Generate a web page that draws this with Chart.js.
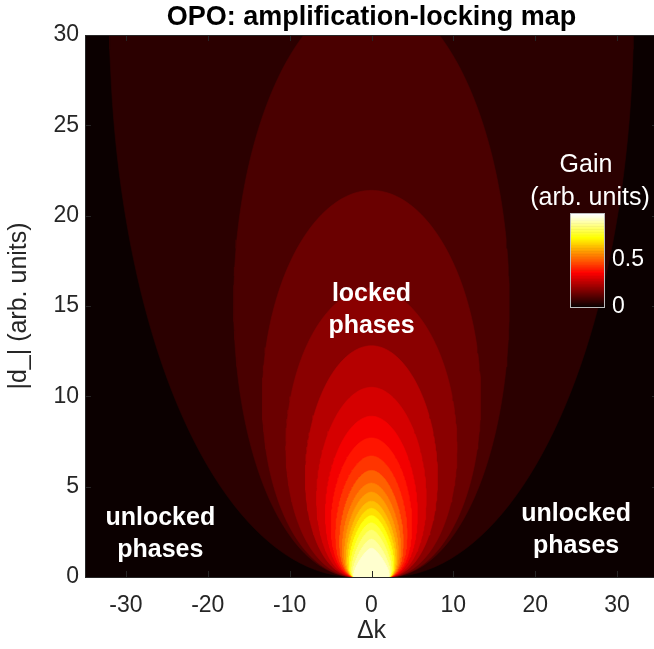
<!DOCTYPE html>
<html>
<head>
<meta charset="utf-8">
<script src="https://cdn.jsdelivr.net/npm/chart.js@4.4.0/dist/chart.umd.min.js"></script>
<style>
  html, body { margin: 0; padding: 0; background: #fff; overflow: hidden; }
  #wrap { width: 654px; height: 649px; overflow: hidden; }
</style>
</head>
<body>
<div id="wrap"><canvas id="graph-canvas" width="660" height="649"></canvas></div>
<script>
// gain value of each filled-contour level (arb. units)
const gainLevels = [0.05, 0.10, 0.15, 0.20, 0.25, 0.30, 0.35, 0.40, 0.45, 0.50,
                    0.55, 0.60, 0.65, 0.70, 0.75, 0.80, 0.85, 0.90, 0.95]
// |d_| where each level crosses dk = 0
const apexHeights = [64.5, 32.3, 21.4, 16.0, 12.8, 10.5, 8.9, 7.7, 6.7, 5.9,
                     5.2, 4.7, 4.2, 3.8, 3.4, 3.0, 2.6, 2.1, 1.6]
// widest half extent in dk of each level (without the foot)
const halfWidths = [31, 15.8, 12.3, 9.4, 7.0, 5.6, 4.5, 3.8, 3.2, 2.7,
                    2.35, 2.05, 1.8, 1.6, 1.4, 1.2, 1.0, 0.8, 0.6]
// half width in dk where all levels meet the dk axis
const footHalfWidth = 2
const gainMax = 1

const xTicks = [-30, -20, -10, 0, 10, 20, 30]
const yTicks = [0, 5, 10, 15, 20, 25, 30]
const colorbarTicks = [0, 0.5]

const annotations = [
    { lines: ['locked', 'phases'], x: 0, y: 14.8 },
    { lines: ['unlocked', 'phases'], x: -25.8, y: 2.4 },
    { lines: ['unlocked', 'phases'], x: 25, y: 2.6 }
]

const fontFamily = '"Liberation Sans", Arial, Helvetica, sans-serif'
const axisGray = '#262626'

// MATLAB style hot(64)
hotColor = (i) => {
    const r = i < 24 ? (i + 1) / 24 : 1
    const g = i < 24 ? 0 : (i < 48 ? (i - 23) / 24 : 1)
    const b = i < 48 ? 0 : (i - 47) / 16
    return 'rgb(' + Math.round(r * 255) + ',' + Math.round(g * 255) + ',' + Math.round(b * 255) + ')'
}

levelColor = (level) => hotColor(Math.min(63, Math.floor(level / gainMax * 64)))

// closed outline of one level: foot -> apex -> other foot
contourOutline = (apex, halfWidth) => {
    const pts = []
    const steps = 100
    const side = (i, sign) => {
        const t = Math.PI * i / steps
        const y = apex / 2 * (1 - Math.cos(t))
        const x = halfWidth * Math.sin(t) + footHalfWidth * (1 + Math.cos(t)) / 2
        return { x: sign * x, y: y }
    }
    for (let i = 0; i <= steps; i++) pts.push(side(i, 1))
    for (let i = steps; i >= 0; i--) pts.push(side(i, -1))
    return pts
}

const datasets = gainLevels.map((level, k) => {
    const col = levelColor(level)
    return {
        label: 'gain > ' + level,
        data: contourOutline(apexHeights[k], halfWidths[k]),
        showLine: true,
        fill: 'shape',
        backgroundColor: col,
        borderColor: col,
        borderWidth: 0.6,
        pointRadius: 0,
        order: gainLevels.length - k
    }
})

const mapBackground = {
    id: 'mapBackground',
    beforeDatasetsDraw: (chart) => {
        const a = chart.chartArea
        const ctx = chart.ctx
        ctx.save()
        ctx.fillStyle = hotColor(0)
        ctx.fillRect(a.left, a.top, a.right - a.left, a.bottom - a.top)
        ctx.restore()
    }
}

const axesFrame = {
    id: 'axesFrame',
    afterDatasetsDraw: (chart) => {
        const a = chart.chartArea
        const ctx = chart.ctx
        const xs = chart.scales.x
        const ys = chart.scales.y
        const tl = 6
        ctx.save()
        ctx.strokeStyle = axisGray
        ctx.lineWidth = 1
        ctx.beginPath()
        xTicks.forEach((v) => {
            const px = Math.round(xs.getPixelForValue(v)) + 0.5
            ctx.moveTo(px, a.bottom); ctx.lineTo(px, a.bottom - tl)
            ctx.moveTo(px, a.top); ctx.lineTo(px, a.top + tl)
        })
        yTicks.forEach((v) => {
            const py = Math.round(ys.getPixelForValue(v)) + 0.5
            ctx.moveTo(a.left, py); ctx.lineTo(a.left + tl, py)
            ctx.moveTo(a.right, py); ctx.lineTo(a.right - tl, py)
        })
        ctx.stroke()
        ctx.strokeRect(Math.round(a.left) + 0.5, Math.round(a.top) + 0.5, Math.round(a.right - a.left), Math.round(a.bottom - a.top))
        ctx.restore()
    }
}

const textLabels = {
    id: 'textLabels',
    afterDraw: (chart) => {
        const ctx = chart.ctx
        const xs = chart.scales.x
        const ys = chart.scales.y
        ctx.save()
        ctx.fillStyle = '#fff'
        ctx.textAlign = 'center'
        ctx.textBaseline = 'middle'
        ctx.font = 'bold 25px ' + fontFamily
        annotations.forEach((an) => {
            const cx = xs.getPixelForValue(an.x)
            const cy = ys.getPixelForValue(an.y)
            an.lines.forEach((ln, i) => {
                ctx.fillText(ln, cx, cy + (i - (an.lines.length - 1) / 2) * 32)
            })
        })

        // colorbar
        const cb = { left: 570, top: 213, width: 34, height: 94 }
        for (let i = 0; i < 64; i++) {
            const y0 = cb.top + cb.height - (i + 1) * cb.height / 64
            ctx.fillStyle = hotColor(i)
            ctx.fillRect(cb.left, y0, cb.width, cb.height / 64 + 0.6)
        }
        ctx.strokeStyle = '#bdbdbd'
        ctx.lineWidth = 1
        ctx.strokeRect(cb.left + 0.5, cb.top + 0.5, cb.width, cb.height)
        ctx.fillStyle = '#fff'
        ctx.textAlign = 'left'
        ctx.font = '23px ' + fontFamily
        colorbarTicks.forEach((v) => {
            const py = cb.top + cb.height - v / gainMax * cb.height
            ctx.fillText(String(v), cb.left + cb.width + 8, py)
        })
        ctx.textAlign = 'center'
        ctx.font = '25px ' + fontFamily
        ctx.fillText('Gain', 586, 165)
        ctx.fillText('(arb. units)', 590, 198)
        ctx.restore()
    }
}

createChart = () => {
    const tickFont = { family: fontFamily, size: 23 }
    const labelFont = { family: fontFamily, size: 25 }
    const chart = new Chart(document.getElementById('graph-canvas'), {
        type: 'scatter',
        data: { datasets: datasets },
        options: {
            responsive: false,
            animation: false,
            devicePixelRatio: 1,
            layout: { padding: { left: 0, right: 2, top: 0, bottom: 0 } },
            plugins: {
                legend: { display: false },
                tooltip: { enabled: false },
                title: {
                    display: true,
                    fullSize: false,
                    text: 'OPO: amplification-locking map',
                    color: '#000',
                    font: { family: fontFamily, size: 27, weight: 'bold' },
                    padding: { top: 1, bottom: 1.6 }
                }
            },
            scales: {
                x: {
                    type: 'linear',
                    min: -35,
                    max: 35,
                    afterBuildTicks: (s) => { s.ticks = xTicks.map((v) => ({ value: v })) },
                    afterFit: (s) => { s.height = 72 },
                    grid: { display: false, drawTicks: false },
                    border: { display: false },
                    ticks: { color: axisGray, font: tickFont, padding: 15, maxRotation: 0, autoSkip: false },
                    title: { display: true, text: 'Δk', color: axisGray, font: labelFont, padding: { top: 0, bottom: 3 } }
                },
                y: {
                    type: 'linear',
                    min: 0,
                    max: 30,
                    afterBuildTicks: (s) => { s.ticks = yTicks.map((v) => ({ value: v })) },
                    afterFit: (s) => { s.width = 85 },
                    grid: { display: false, drawTicks: false },
                    border: { display: false },
                    ticks: { color: axisGray, font: tickFont, padding: 6, autoSkip: false },
                    title: { display: true, text: '|d_| (arb. units)', color: axisGray, font: labelFont, padding: { top: 4, bottom: 0 } }
                }
            }
        },
        plugins: [mapBackground, axesFrame, textLabels]
    })
    return chart
}

createChart()
</script>
</body>
</html>
